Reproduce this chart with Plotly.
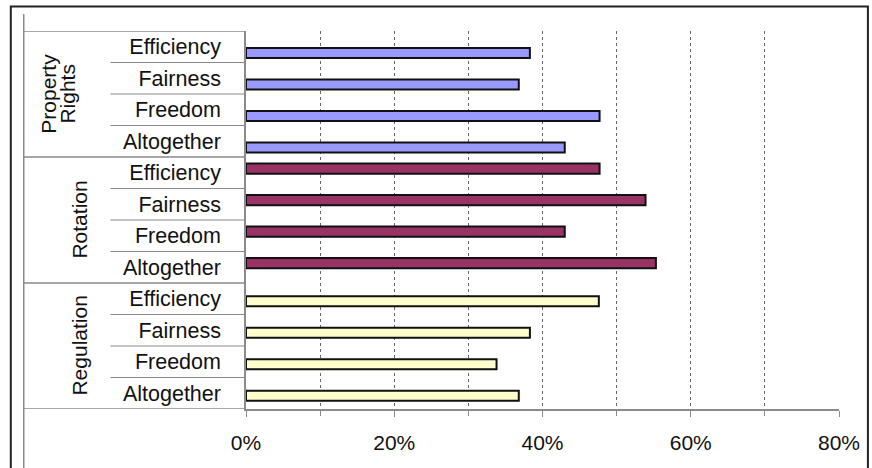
import plotly.graph_objects as go

# ---- data ----
groups = ["Property Rights", "Rotation", "Regulation"]
items = ["Efficiency", "Fairness", "Freedom", "Altogether"]
property_rights = [38.3, 36.8, 47.7, 43.0]
rotation = [47.7, 53.9, 43.0, 55.3]
regulation = [47.6, 38.3, 33.8, 36.8]
x_ticks = [0, 20, 40, 60, 80]
x_tick_labels = ["0%", "20%", "40%", "60%", "80%"]

series = [property_rights, rotation, regulation]
colors = ["#9999FF", "#993366", "#FFFFCC"]
offsets = [0.04, -0.29, -0.08]

W, H = 872, 468
ML, MR, MT, MB = 246, 31, 31, 59
PW, PH = W - ML - MR, H - MT - MB
FONT = "Arial, Liberation Sans"
TXT = "#111111"


def px_x(px):
    return (px - ML) / PW


def px_y(py):
    return (H - MB - py) / PH


keys = [f"{g}|{i}" for g in groups for i in items]
ticktext = [i for g in groups for i in items]

fig = go.Figure()
for g, vals, col, off in zip(groups, series, colors, offsets):
    fig.add_trace(go.Bar(
        x=vals,
        y=[f"{g}|{i}" for i in items],
        orientation="h",
        name=g,
        marker=dict(color=col, line=dict(color="#111111", width=2)),
        width=0.32,
        offset=off,
        showlegend=False,
        hoverinfo="x+y",
    ))

shapes = []
# outer frame
shapes.append(dict(type="rect", xref="paper", yref="paper",
                   x0=px_x(10), x1=px_x(870), y0=px_y(480), y1=px_y(6.5),
                   line=dict(color="#222222", width=2), fillcolor="rgba(0,0,0,0)", layer="above"))
# left inner line
shapes.append(dict(type="line", xref="paper", yref="paper",
                   x0=px_x(23), x1=px_x(23), y0=px_y(480), y1=px_y(14),
                   line=dict(color="#8a8a8a", width=1.5)))
n = len(items)
# group dividers
for k in range(len(groups) + 1):
    yv = k * n - 0.5
    shapes.append(dict(type="line", xref="paper", yref="y",
                       x0=px_x(23), x1=0, y0=yv, y1=yv,
                       line=dict(color="#8a8a8a", width=1.5)))
# item dividers
for gi in range(len(groups)):
    for j in range(1, n):
        yv = gi * n + j - 0.5
        shapes.append(dict(type="line", xref="paper", yref="y",
                           x0=px_x(110), x1=0, y0=yv, y1=yv,
                           line=dict(color="#8a8a8a", width=1.2)))

annotations = []
# group labels (rotated); first group split into two lines
label_lines = [[("Property", 47), ("Rights", 66)], [("Rotation", 78)], [("Regulation", 78)]]
for gi, lines in enumerate(label_lines):
    for text, xpx in lines:
        annotations.append(dict(
            xref="paper", yref="y", x=px_x(xpx), y=gi * n + (n - 1) / 2,
            text=text, textangle=-90, showarrow=False,
            font=dict(family=FONT, size=21, color=TXT),
            xanchor="center", yanchor="middle", align="center",
        ))

fig.update_layout(
    width=W, height=H,
    margin=dict(l=ML, r=MR, t=MT, b=MB, pad=0),
    paper_bgcolor="white", plot_bgcolor="white",
    font=dict(family=FONT, size=21, color=TXT),
    shapes=shapes, annotations=annotations,
    barmode="overlay",
)
fig.update_xaxes(
    range=[0, 80], tickmode="array", tickvals=x_ticks, ticktext=x_tick_labels,
    showgrid=True, gridcolor="#666666", griddash="dot", gridwidth=1,
    minor=dict(dtick=10, showgrid=True, gridcolor="#666666", griddash="dot",
               ticks="outside", ticklen=5, tickcolor="#8a8a8a"),
    ticks="outside", ticklen=6, tickcolor="#8a8a8a",
    showline=True, linecolor="#8a8a8a", linewidth=1.5,
    zeroline=False, ticklabelstandoff=8,
    tickfont=dict(size=21),
)
fig.update_yaxes(
    type="category", categoryorder="array", categoryarray=keys,
    range=[len(keys) - 0.5, -0.5],
    tickvals=keys, ticktext=ticktext,
    showline=True, linecolor="#8a8a8a", linewidth=1.5,
    ticks="", showgrid=False, zeroline=False,
    ticklabelstandoff=19, tickfont=dict(size=21.5),
)

fig.write_html("out.html")
